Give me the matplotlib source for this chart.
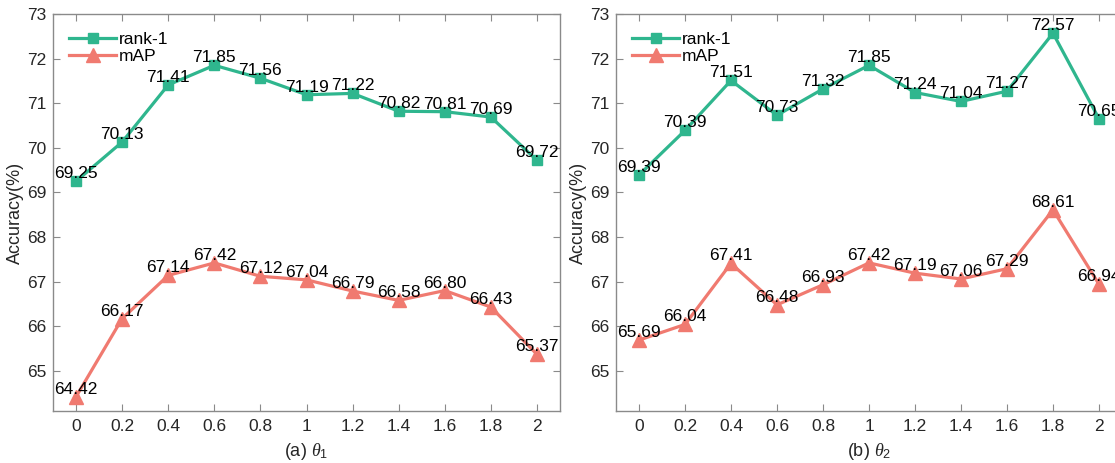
import matplotlib
matplotlib.use('Agg')
import matplotlib.pyplot as plt

plt.rcParams['font.family'] = ['Liberation Sans', 'DejaVu Sans']
plt.rcParams['mathtext.fontset'] = 'custom'
plt.rcParams['mathtext.it'] = 'Liberation Serif:italic'
plt.rcParams['mathtext.rm'] = 'Liberation Sans'

theta = [0, 0.2, 0.4, 0.6, 0.8, 1, 1.2, 1.4, 1.6, 1.8, 2]
tick_labels = ['0', '0.2', '0.4', '0.6', '0.8', '1', '1.2', '1.4', '1.6', '1.8', '2']

rank1_a = [69.25, 70.13, 71.41, 71.85, 71.56, 71.19, 71.22, 70.82, 70.81, 70.69, 69.72]
map_a = [64.42, 66.17, 67.14, 67.42, 67.12, 67.04, 66.79, 66.58, 66.80, 66.43, 65.37]
rank1_b = [69.39, 70.39, 71.51, 70.73, 71.32, 71.85, 71.24, 71.04, 71.27, 72.57, 70.65]
map_b = [65.69, 66.04, 67.41, 66.48, 66.93, 67.42, 67.19, 67.06, 67.29, 68.61, 66.94]

green = '#2fb68e'
salmon = '#f07a70'
spine = '#8a8a8a'
text_c = '#262626'


def panel(ax, rank1, mAP, xlabel):
    ax.plot(theta, rank1, color=green, lw=2.3, marker='s', ms=7.5,
            label='rank-1', zorder=3)
    ax.plot(theta, mAP, color=salmon, lw=2.3, marker='^', ms=10.5,
            label='mAP', zorder=3)
    for xs, ys in ((theta, rank1), (theta, mAP)):
        for x, y in zip(xs, ys):
            ax.annotate('%.2f' % y, (x, y), xytext=(0, 2.2),
                        textcoords='offset points', ha='center',
                        va='baseline', fontsize=12.5, color='black',
                        zorder=4, annotation_clip=False)
    ax.set_xlim(-0.1, 2.1)
    ax.set_ylim(64.1, 73)
    ax.set_xticks(theta)
    ax.set_xticklabels(tick_labels)
    ax.set_yticks(range(65, 74))
    ax.tick_params(direction='in', top=True, right=True, length=5,
                   width=0.8, color=spine, labelsize=12.5,
                   labelcolor=text_c, pad=6)
    ax.tick_params(axis='y', pad=5)
    for s in ax.spines.values():
        s.set_color(spine)
        s.set_linewidth(1.0)
    ax.set_ylabel('Accuracy(%)', fontsize=13, color=text_c, labelpad=2)
    ax.set_xlabel(xlabel, fontsize=13, color=text_c, labelpad=5)
    ax.legend(loc='upper left', frameon=False, fontsize=12.5,
              handlelength=2.7, borderaxespad=0.3, labelspacing=0.1,
              handletextpad=0.15, bbox_to_anchor=(0.008, 0.985))


fig = plt.figure(figsize=(11.15, 4.63), dpi=100)
ax1 = fig.add_axes([53 / 1115, 52 / 463, 507 / 1115, 397 / 463])
ax2 = fig.add_axes([616 / 1115, 52 / 463, 506 / 1115, 397 / 463])
panel(ax1, rank1_a, map_a, r'(a) $\theta_1$')
panel(ax2, rank1_b, map_b, r'(b) $\theta_2$')
fig.savefig('out.png', dpi=100)
